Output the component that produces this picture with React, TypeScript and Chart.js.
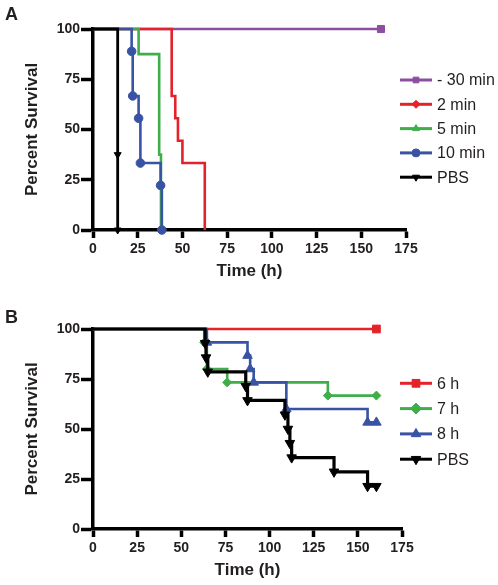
import React, { useEffect, useRef } from 'react';
import { Chart, registerables } from 'chart.js';
import { drawPoint } from 'chart.js/helpers';

Chart.register(...registerables);

// ---------- Panel A data ----------
const A_LABELS = ['- 30 min', '2 min', '5 min', '10 min', 'PBS'];

const A_M30_TIME = [0, 161];
const A_M30_SURV = [100, 100];
const A_M30_MARK = [0, 1];

const A_2_TIME = [0, 44, 46, 47.5, 50, 62.5];
const A_2_SURV = [100, 66.7, 55.6, 44.4, 33.3, 0];
const A_2_MARK = [0, 0, 0, 0, 0, 0];

const A_5_TIME = [0, 25.5, 37, 38];
const A_5_SURV = [100, 87.5, 37.5, 0];
const A_5_MARK = [0, 0, 0, 0];

const A_10_TIME = [0, 21.6, 22.2, 25.5, 26.5, 37.8, 38.5];
const A_10_SURV = [100, 88.9, 66.7, 55.6, 33.3, 22.2, 0];
const A_10_MARK = [0, 1, 1, 1, 1, 1, 1];

const A_PBS_TIME = [0, 13.8, 13.8];
const A_PBS_SURV = [100, 37.5, 0];
const A_PBS_MARK = [0, 1, 1];

// ---------- Panel B data ----------
const B_LABELS = ['6 h', '7 h', '8 h', 'PBS'];

const B_6_TIME = [0, 160.5];
const B_6_SURV = [100, 100];
const B_6_MARK = [0, 1];

const B_7_TIME = [0, 63, 64.5, 76, 133, 160.5];
const B_7_SURV = [100, 93.3, 80, 73.3, 66.7, 66.7];
const B_7_MARK = [0, 1, 1, 1, 1, 1];

const B_8_TIME = [0, 64.5, 87.5, 89, 91, 109.5, 155.5, 160.5];
const B_8_SURV = [100, 93.3, 86.7, 80, 73.3, 60, 53.3, 53.3];
const B_8_MARK = [0, 1, 1, 1, 1, 1, 1, 1];

const B_PBS_TIME = [0, 63.5, 64, 65, 86.5, 87.5, 108.7, 110.4, 111.5, 112.5, 136.5, 155.5, 160.5];
const B_PBS_SURV = [100, 92.9, 85.7, 78.6, 71.4, 64.3, 57.1, 50, 42.9, 35.7, 28.6, 21.4, 21.4];
const B_PBS_MARK = [0, 1, 1, 1, 1, 1, 1, 1, 1, 1, 1, 1, 1];

const X_MIN = 0;
const X_MAX = 175;
const X_STEP = 25;
const Y_MIN = 0;
const Y_MAX = 100;
const Y_STEP = 25;

const PURPLE = '#8c4f9f';
const RED = '#e3232a';
const GREEN = '#3fae4a';
const BLUE = '#3953a4';
const BLACK = '#000000';
const TEXT = '#231f20';
const FONT = 'Arial, "Liberation Sans", Helvetica, sans-serif';

function series(label: string, times: number[], surv: number[], marks: number[], color: string,
  style: string, radius: number, order: number, width = 2.6, rotation = 0) {
  return {
    label,
    data: times.map((t, i) => ({ x: t, y: surv[i] })),
    borderColor: color,
    backgroundColor: color,
    borderWidth: width,
    stepped: 'before',
    pointStyle: style,
    pointRotation: rotation,
    pointRadius: marks.map((m) => (m ? radius : 0)),
    pointBackgroundColor: color,
    pointBorderColor: color,
    pointBorderWidth: 1,
    fill: false,
    clip: false,
    order,
  };
}

function overlayPlugin(letter: string, letterY: number, rowY0: number, rowStep: number, legendR: number) {
  return {
    id: 'overlay' + letter,
    afterDraw(chart: any) {
      const ctx = chart.ctx;
      ctx.save();
      ctx.fillStyle = TEXT;
      ctx.font = `bold 18px ${FONT}`;
      ctx.textAlign = 'left';
      ctx.textBaseline = 'alphabetic';
      ctx.fillText(letter, 5, letterY);
      chart.data.datasets.forEach((ds: any, i: number) => {
        const y = rowY0 + i * rowStep;
        ctx.strokeStyle = ds.borderColor;
        ctx.lineWidth = 3;
        ctx.beginPath();
        ctx.moveTo(400, y);
        ctx.lineTo(432, y);
        ctx.stroke();
        ctx.fillStyle = ds.borderColor;
        ctx.strokeStyle = ds.borderColor;
        ctx.lineWidth = 1;
        drawPoint(ctx, { pointStyle: ds.pointStyle, rotation: ds.pointRotation || 0, radius: legendR, borderWidth: 1 } as any, 416, y);
        ctx.fillStyle = TEXT;
        ctx.font = `16px ${FONT}`;
        ctx.textBaseline = 'middle';
        ctx.fillText(ds.label, 437, y + 1);
      });
      ctx.restore();
    },
  };
}

function makeOptions(padRight: number, xAxisH: number, xTitlePad: number) {
  const tickFont = { family: FONT, size: 14, weight: 'bold' as const };
  const titleFont = { family: FONT, size: 17, weight: 'bold' as const };
  return {
    responsive: false,
    animation: false as const,
    events: [] as any[],
    layout: { padding: { left: 0, top: 29, right: padRight, bottom: 0 } },
    plugins: { legend: { display: false }, tooltip: { enabled: false } },
    scales: {
      x: {
        type: 'linear' as const,
        min: X_MIN,
        max: X_MAX,
        ticks: { stepSize: X_STEP, color: TEXT, font: tickFont, padding: 3, maxRotation: 0 },
        grid: { display: true, drawOnChartArea: false, drawTicks: true, tickLength: 8, tickWidth: 3.5, tickColor: BLACK },
        border: { display: true, color: BLACK, width: 3.5 },
        title: { display: true, text: 'Time (h)', color: TEXT, font: titleFont, padding: { top: 0, bottom: xTitlePad } },
        afterFit: (s: any) => { s.height = xAxisH; },
      },
      y: {
        type: 'linear' as const,
        min: Y_MIN,
        max: Y_MAX,
        ticks: { stepSize: Y_STEP, color: TEXT, font: tickFont, padding: 1 },
        grid: { display: true, drawOnChartArea: false, drawTicks: true, tickLength: 12, tickWidth: 3.5, tickColor: BLACK },
        border: { display: true, color: BLACK, width: 3.5 },
        title: { display: true, text: 'Percent Survival', color: TEXT, font: titleFont, padding: { top: 22, bottom: 0 } },
        afterFit: (s: any) => { s.width = 93; },
      },
    },
  };
}

export default function App() {
  const refA = useRef<HTMLCanvasElement>(null);
  const refB = useRef<HTMLCanvasElement>(null);

  useEffect(() => {
    const chartA = new Chart(refA.current as HTMLCanvasElement, {
      type: 'line',
      data: {
        datasets: [
          series(A_LABELS[0], A_M30_TIME, A_M30_SURV, A_M30_MARK, PURPLE, 'rect', 5, 4),
          series(A_LABELS[1], A_2_TIME, A_2_SURV, A_2_MARK, RED, 'rectRot', 4, 3),
          series(A_LABELS[2], A_5_TIME, A_5_SURV, A_5_MARK, GREEN, 'triangle', 4.5, 2),
          series(A_LABELS[3], A_10_TIME, A_10_SURV, A_10_MARK, BLUE, 'circle', 4.3, 1),
          series(A_LABELS[4], A_PBS_TIME, A_PBS_SURV, A_PBS_MARK, BLACK, 'triangle', 4, 0, 2.8, 180),
        ] as any,
      },
      options: makeOptions(92, 70, 18) as any,
      plugins: [overlayPlugin('A', 20, 80, 24.3, 4) as any],
    });
    const chartB = new Chart(refB.current as HTMLCanvasElement, {
      type: 'line',
      data: {
        datasets: [
          series(B_LABELS[0], B_6_TIME, B_6_SURV, B_6_MARK, RED, 'rect', 5.5, 3),
          series(B_LABELS[1], B_7_TIME, B_7_SURV, B_7_MARK, GREEN, 'rectRot', 4.5, 2),
          series(B_LABELS[2], B_8_TIME, B_8_SURV, B_8_MARK, BLUE, 'triangle', 5.5, 1),
          series(B_LABELS[3], B_PBS_TIME, B_PBS_SURV, B_PBS_MARK, BLACK, 'triangle', 5.5, 0, 3.2, 180),
        ] as any,
      },
      options: makeOptions(96, 56, 4) as any,
      plugins: [overlayPlugin('B', 23, 83.3, 25.3, 5.5) as any],
    });
    return () => {
      chartA.destroy();
      chartB.destroy();
    };
  }, []);

  return (
    <div style={{ position: 'absolute', left: 0, top: 0, width: 498, height: 585, background: '#fff', overflow: 'hidden' }}>
      <canvas ref={refA} width={498} height={300} style={{ position: 'absolute', left: 0, top: 0, width: 498, height: 300 }} />
      <canvas ref={refB} width={498} height={285} style={{ position: 'absolute', left: 0, top: 300, width: 498, height: 285 }} />
    </div>
  );
}
